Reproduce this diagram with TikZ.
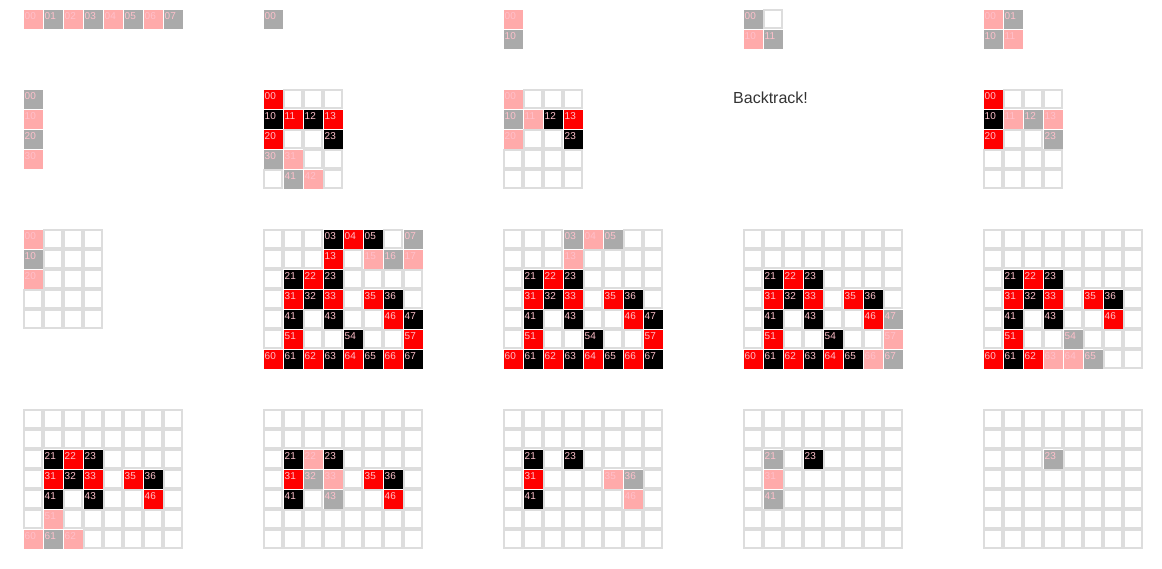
\documentclass[tikz,border=0pt]{standalone}
\usepackage{fontspec}
\setmainfont{Liberation Sans}

\definecolor{cred}{HTML}{FF0000}
\definecolor{cblk}{HTML}{000000}
\definecolor{cpnk}{HTML}{FFAAAA}
\definecolor{cgry}{HTML}{AAAAAA}
\definecolor{gridgray}{HTML}{DDDDDD}
\definecolor{labelpink}{HTML}{FFC0CB}
\definecolor{msggray}{HTML}{333333}

\tikzset{
  emptycell/.style={draw=gridgray, line width=1.6pt, fill=white},
  celllabel/.style={anchor=north west, inner sep=0pt, text=labelpink,
    font=\fontsize{10}{10}\selectfont},
  message/.style={anchor=base west, inner sep=0pt, text=msggray,
    font=\fontsize{16}{16}\selectfont},
}

% empty board: #1 columns, #2 rows
\newcommand{\emptygrid}[2]{%
  \foreach \c in {1,...,#1}
    \foreach \r in {1,...,#2}
      \draw[emptycell] ({(\c-1)*20+0.8},{(\r-1)*20+0.8}) rectangle +(18.4,18.4);}

% coloured cells: #1 panel name, #2 list of row/col/colour
\newcommand{\fillcells}[2]{%
  \foreach \r/\c/\col in {#2}{
    \fill[white] (\c*20,\r*20) rectangle +(20,20);
    \fill[\col] ({\c*20+1},{\r*20+1}) rectangle +(19,19);
    \node[celllabel] (#1-\r\c) at ({\c*20+1.5},{\r*20+3}) {\r\c};
  }}

\begin{document}
\begin{tikzpicture}[x=1pt, y=-1pt]
  \useasboundingbox (0,0) rectangle (1162,568);

  % first row
  \begin{scope}[shift={(23,9)}]
    \fillcells{p11}{0/0/cpnk,0/1/cgry,0/2/cpnk,0/3/cgry,0/4/cpnk,0/5/cgry,0/6/cpnk,0/7/cgry}
  \end{scope}
  \begin{scope}[shift={(263,9)}]
    \fillcells{p12}{0/0/cgry}
  \end{scope}
  \begin{scope}[shift={(503,9)}]
    \fillcells{p13}{0/0/cpnk,1/0/cgry}
  \end{scope}
  \begin{scope}[shift={(743,9)}]
    \emptygrid{2}{2}
    \fillcells{p14}{0/0/cgry,1/0/cpnk,1/1/cgry}
  \end{scope}
  \begin{scope}[shift={(983,9)}]
    \fillcells{p15}{0/0/cpnk,0/1/cgry,1/0/cgry,1/1/cpnk}
  \end{scope}

  % second row
  \begin{scope}[shift={(23,89)}]
    \fillcells{p21}{0/0/cgry,1/0/cpnk,2/0/cgry,3/0/cpnk}
  \end{scope}
  \begin{scope}[shift={(263,89)}]
    \emptygrid{4}{5}
    \fillcells{p22}{0/0/cred,1/0/cblk,1/1/cred,1/2/cblk,1/3/cred,2/0/cred,2/3/cblk,
      3/0/cgry,3/1/cpnk,4/1/cgry,4/2/cpnk}
  \end{scope}
  \begin{scope}[shift={(503,89)}]
    \emptygrid{4}{5}
    \fillcells{p23}{0/0/cpnk,1/0/cgry,1/1/cpnk,1/2/cblk,1/3/cred,2/0/cpnk,2/3/cblk}
  \end{scope}
  \node[message] (backtrack) at (733,103) {Backtrack!};
  \begin{scope}[shift={(983,89)}]
    \emptygrid{4}{5}
    \fillcells{p25}{0/0/cred,1/0/cblk,2/0/cred,1/1/cpnk,1/2/cgry,1/3/cpnk,2/3/cgry}
  \end{scope}

  % third row
  \begin{scope}[shift={(23,229)}]
    \emptygrid{4}{5}
    \fillcells{p31}{0/0/cpnk,1/0/cgry,2/0/cpnk}
  \end{scope}
  \begin{scope}[shift={(263,229)}]
    \emptygrid{8}{7}
    \fillcells{p32}{0/3/cblk,0/4/cred,0/5/cblk,0/7/cgry,1/3/cred,1/5/cpnk,1/6/cgry,1/7/cpnk,
      2/1/cblk,2/2/cred,2/3/cblk,3/1/cred,3/2/cblk,3/3/cred,3/5/cred,3/6/cblk,
      4/1/cblk,4/3/cblk,4/6/cred,4/7/cblk,5/1/cred,5/4/cblk,5/7/cred,
      6/0/cred,6/1/cblk,6/2/cred,6/3/cblk,6/4/cred,6/5/cblk,6/6/cred,6/7/cblk}
  \end{scope}
  \begin{scope}[shift={(503,229)}]
    \emptygrid{8}{7}
    \fillcells{p33}{0/3/cgry,0/4/cpnk,0/5/cgry,1/3/cpnk,
      2/1/cblk,2/2/cred,2/3/cblk,3/1/cred,3/2/cblk,3/3/cred,3/5/cred,3/6/cblk,
      4/1/cblk,4/3/cblk,4/6/cred,4/7/cblk,5/1/cred,5/4/cblk,5/7/cred,
      6/0/cred,6/1/cblk,6/2/cred,6/3/cblk,6/4/cred,6/5/cblk,6/6/cred,6/7/cblk}
  \end{scope}
  \begin{scope}[shift={(743,229)}]
    \emptygrid{8}{7}
    \fillcells{p34}{2/1/cblk,2/2/cred,2/3/cblk,3/1/cred,3/2/cblk,3/3/cred,3/5/cred,3/6/cblk,
      4/1/cblk,4/3/cblk,4/6/cred,4/7/cgry,5/1/cred,5/4/cblk,5/7/cpnk,
      6/0/cred,6/1/cblk,6/2/cred,6/3/cblk,6/4/cred,6/5/cblk,6/6/cpnk,6/7/cgry}
  \end{scope}
  \begin{scope}[shift={(983,229)}]
    \emptygrid{8}{7}
    \fillcells{p35}{2/1/cblk,2/2/cred,2/3/cblk,3/1/cred,3/2/cblk,3/3/cred,3/5/cred,3/6/cblk,
      4/1/cblk,4/3/cblk,4/6/cred,5/1/cred,5/4/cgry,
      6/0/cred,6/1/cblk,6/2/cred,6/3/cpnk,6/4/cpnk,6/5/cgry}
  \end{scope}

  % fourth row
  \begin{scope}[shift={(23,409)}]
    \emptygrid{8}{7}
    \fillcells{p41}{2/1/cblk,2/2/cred,2/3/cblk,3/1/cred,3/2/cblk,3/3/cred,3/5/cred,3/6/cblk,
      4/1/cblk,4/3/cblk,4/6/cred,5/1/cpnk,6/0/cpnk,6/1/cgry,6/2/cpnk}
  \end{scope}
  \begin{scope}[shift={(263,409)}]
    \emptygrid{8}{7}
    \fillcells{p42}{2/1/cblk,2/2/cpnk,2/3/cblk,3/1/cred,3/2/cgry,3/3/cpnk,3/5/cred,3/6/cblk,
      4/1/cblk,4/3/cgry,4/6/cred}
  \end{scope}
  \begin{scope}[shift={(503,409)}]
    \emptygrid{8}{7}
    \fillcells{p43}{2/1/cblk,2/3/cblk,3/1/cred,3/5/cpnk,3/6/cgry,4/1/cblk,4/6/cpnk}
  \end{scope}
  \begin{scope}[shift={(743,409)}]
    \emptygrid{8}{7}
    \fillcells{p44}{2/1/cgry,2/3/cblk,3/1/cpnk,4/1/cgry}
  \end{scope}
  \begin{scope}[shift={(983,409)}]
    \emptygrid{8}{7}
    \fillcells{p45}{2/3/cgry}
  \end{scope}
\end{tikzpicture}
\end{document}
